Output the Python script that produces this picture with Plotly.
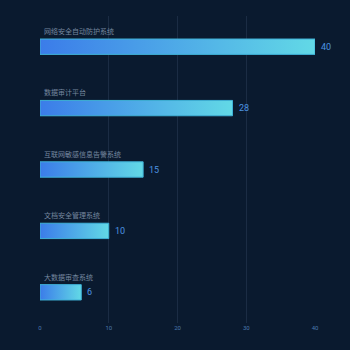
import plotly.graph_objects as go

# Data
systems = ["网络安全自动防护系统", "数据审计平台", "互联网敏感信息告警系统", "文档安全管理系统", "大数据审查系统"]
counts = [40, 28, 15, 10, 6]
x_ticks = [0, 10, 20, 30, 40]

BG = "#0a1a2f"
BAR_HALF = 0.125

fig = go.Figure()

for i, (name, v) in enumerate(zip(systems, counts)):
    y0, y1 = i - BAR_HALF, i + BAR_HALF
    fig.add_trace(go.Scatter(
        x=[0, v, v, 0, 0],
        y=[y0, y0, y1, y1, y0],
        mode="lines",
        fill="toself",
        fillgradient=dict(
            type="horizontal",
            colorscale=[[0, "#3b7ce9"], [1, "#62d9e6"]],
        ),
        line=dict(color="#3fb2d8", width=1),
        hoverinfo="skip",
        showlegend=False,
    ))
    # category name above the bar
    fig.add_annotation(
        x=0, y=y0, xref="x", yref="y",
        text=name, showarrow=False,
        xanchor="left", yanchor="bottom",
        xshift=2, yshift=1,
        font=dict(family="Noto Sans CJK SC", size=7, color="#75879f"),
    )
    # value label to the right of the bar
    fig.add_annotation(
        x=v, y=i, xref="x", yref="y",
        text=str(v), showarrow=False,
        xanchor="left", yanchor="middle",
        xshift=4,
        font=dict(family="Liberation Sans Narrow, Roboto", size=9, color="#4d93e0"),
    )

fig.update_layout(
    width=350, height=350,
    paper_bgcolor=BG, plot_bgcolor=BG,
    margin=dict(l=40, r=35, t=16, b=27),
    xaxis=dict(
        range=[0, 40],
        tickvals=x_ticks,
        ticktext=[str(t) for t in x_ticks],
        showgrid=True, gridcolor="#1b2c44", gridwidth=1,
        zeroline=False, showline=False,
        tickfont=dict(family="Roboto", size=6, color="#4b78ad"),
        ticks="", ticklen=0,
    ),
    yaxis=dict(
        range=[4.5, -0.5],
        showgrid=False, zeroline=False, showticklabels=False,
    ),
)

fig.write_html("out.html")
